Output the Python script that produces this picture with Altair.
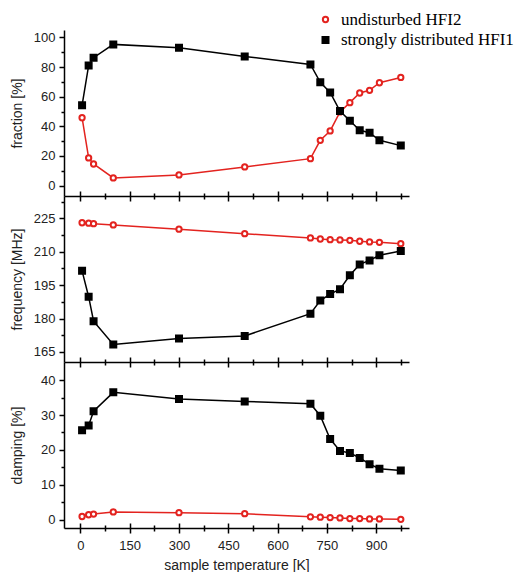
import altair as alt
import pandas as pd

# ---- data ----
temps = [5, 25, 40, 100, 300, 500, 700, 730, 760, 790, 820, 850, 880, 910, 975]
series_names = ["undisturbed HFI2", "strongly distributed HFI1"]

frac_hfi2 = [45.8, 18.7, 14.6, 5.2, 7.2, 12.6, 18.2, 30.6, 36.9, 49.7, 56.0, 62.5, 64.3, 69.4, 73.0]
frac_hfi1 = [54.2, 81.1, 86.3, 95.3, 93.0, 87.2, 81.8, 69.7, 62.9, 50.3, 43.8, 37.3, 35.7, 30.6, 27.0]

freq_hfi2 = [223.0, 222.8, 222.6, 222.0, 220.1, 218.1, 216.2, 215.7, 215.4, 215.3, 215.1, 214.7, 214.4, 214.2, 213.6]
freq_hfi1 = [201.4, 189.8, 178.8, 168.4, 171.1, 172.2, 182.2, 188.1, 191.0, 193.2, 199.4, 204.3, 206.1, 208.4, 210.3]

damp_hfi2 = [0.9, 1.4, 1.6, 2.2, 2.0, 1.7, 0.8, 0.7, 0.6, 0.5, 0.3, 0.3, 0.2, 0.2, 0.1]
damp_hfi1 = [25.6, 27.0, 31.1, 36.5, 34.6, 33.9, 33.2, 29.8, 23.1, 19.7, 19.1, 17.7, 15.9, 14.6, 14.1]

x_ticks = [0, 75, 150, 225, 300, 375, 450, 525, 600, 675, 750, 825, 900, 975]
frac_ticks = [0, 10, 20, 30, 40, 50, 60, 70, 80, 90, 100]
freq_ticks = [165, 172.5, 180, 187.5, 195, 202.5, 210, 217.5, 225, 232.5]
damp_ticks = [0, 5, 10, 15, 20, 25, 30, 35, 40]

# ---- styling ----
colors = ["#e3231f", "#000000"]
shapes = ["circle", "square"]
fills = ["#ffffff", "#000000"]
sizes = [28, 36]

W, H = 345, 166


def frame(v2, v1):
    rows = []
    for t, a, b in zip(temps, v2, v1):
        rows.append({"T": t, "series": series_names[0], "v": a})
        rows.append({"T": t, "series": series_names[1], "v": b})
    return pd.DataFrame(rows)


x_major = "datum.value % 150 === 0"
x_tick_size = {"condition": {"test": x_major, "value": 5}, "value": 3}


def panel(df, ydomain, yvals, ymajor, ytitle, bottom):
    xscale = alt.Scale(domain=[-50, 1000], nice=False, zero=False)
    yscale = alt.Scale(domain=ydomain, nice=False, zero=False)
    yaxis = alt.Axis(
        values=yvals,
        title=ytitle,
        labelExpr=f"({ymajor}) ? datum.label : ''",
        tickSize={"condition": {"test": ymajor, "value": 5}, "value": 3},
        minExtent=34,
        maxExtent=34,
        titlePadding=6,
        labelPadding=4,
        labelOverlap=False,
        labelFlush=False,
    )
    if bottom:
        xaxis = alt.Axis(
            values=x_ticks,
            title="sample temperature [K]",
            labelExpr=f"({x_major}) ? datum.label : ''",
            tickSize=x_tick_size,
            labelPadding=6,
            titlePadding=6,
            labelOverlap=False,
            labelFlush=False,
        )
    else:
        xaxis = alt.Axis(values=x_ticks, title=None, labels=False, tickSize=x_tick_size)

    color = alt.Color(
        "series:N",
        scale=alt.Scale(domain=series_names, range=colors),
        legend=alt.Legend(title=None),
    )
    base = alt.Chart(df)
    line = base.mark_line(strokeWidth=1.5).encode(
        x=alt.X("T:Q", scale=xscale, axis=xaxis),
        y=alt.Y("v:Q", scale=yscale, axis=yaxis),
        color=color,
    )
    pts = base.mark_point(filled=False, strokeWidth=2, opacity=1).encode(
        x=alt.X("T:Q", scale=xscale, axis=None),
        y=alt.Y("v:Q", scale=yscale, axis=yaxis),
        color=color,
        shape=alt.Shape(
            "series:N",
            scale=alt.Scale(domain=series_names, range=shapes),
            legend=alt.Legend(title=None),
        ),
        fill=alt.Fill(
            "series:N",
            scale=alt.Scale(domain=series_names, range=fills),
            legend=alt.Legend(title=None),
        ),
        size=alt.Size(
            "series:N",
            scale=alt.Scale(domain=series_names, range=sizes),
            legend=None,
        ),
    )
    ghost = base.mark_point(opacity=0).encode(
        x=alt.X(
            "T:Q",
            scale=xscale,
            axis=alt.Axis(
                orient="top",
                offset=-H,
                values=x_ticks,
                labels=False,
                domain=False,
                title=None,
                tickSize=x_tick_size,
            ),
        ),
    )
    return (
        alt.layer(line, pts, ghost)
        .resolve_axis(x="independent")
        .properties(width=W, height=H)
    )


p1 = panel(frame(frac_hfi2, frac_hfi1), [-7, 105], frac_ticks,
           "datum.value % 20 === 0", "fraction [%]", False)
p2 = panel(frame(freq_hfi2, freq_hfi1), [160.5, 235], freq_ticks,
           "(datum.value - 165) % 15 === 0", "frequency [MHz]", False)
p3 = panel(frame(damp_hfi2, damp_hfi1), [-2.4, 45.2], damp_ticks,
           "datum.value % 10 === 0", "damping [%]", True)

chart = (
    alt.vconcat(p1, p2, p3, spacing=0, bounds="flush")
    .properties(padding={"left": 2, "top": 3, "right": 0, "bottom": 0})
    .configure_view(stroke=None)
    .configure_axis(
        grid=False,
        domainColor="black",
        domainWidth=1.5,
        tickColor="black",
        tickWidth=1.5,
        labelFont="Liberation Sans",
        labelFontSize=13,
        labelColor="#222222",
        titleFont="Liberation Sans",
        titleFontSize=14,
        titleFontWeight="normal",
        titleColor="#222222",
    )
    .configure_legend(
        orient="none",
        legendX=253,
        legendY=-19,
        padding=0,
        labelFont="Liberation Serif",
        labelFontSize=17,
        labelColor="black",
        labelLimit=400,
        labelOffset=7,
        symbolSize=100,
        symbolStrokeWidth=2,
        rowPadding=2.5,
    )
)

chart.save("out.html", embed_options={"renderer": "svg", "actions": False})
